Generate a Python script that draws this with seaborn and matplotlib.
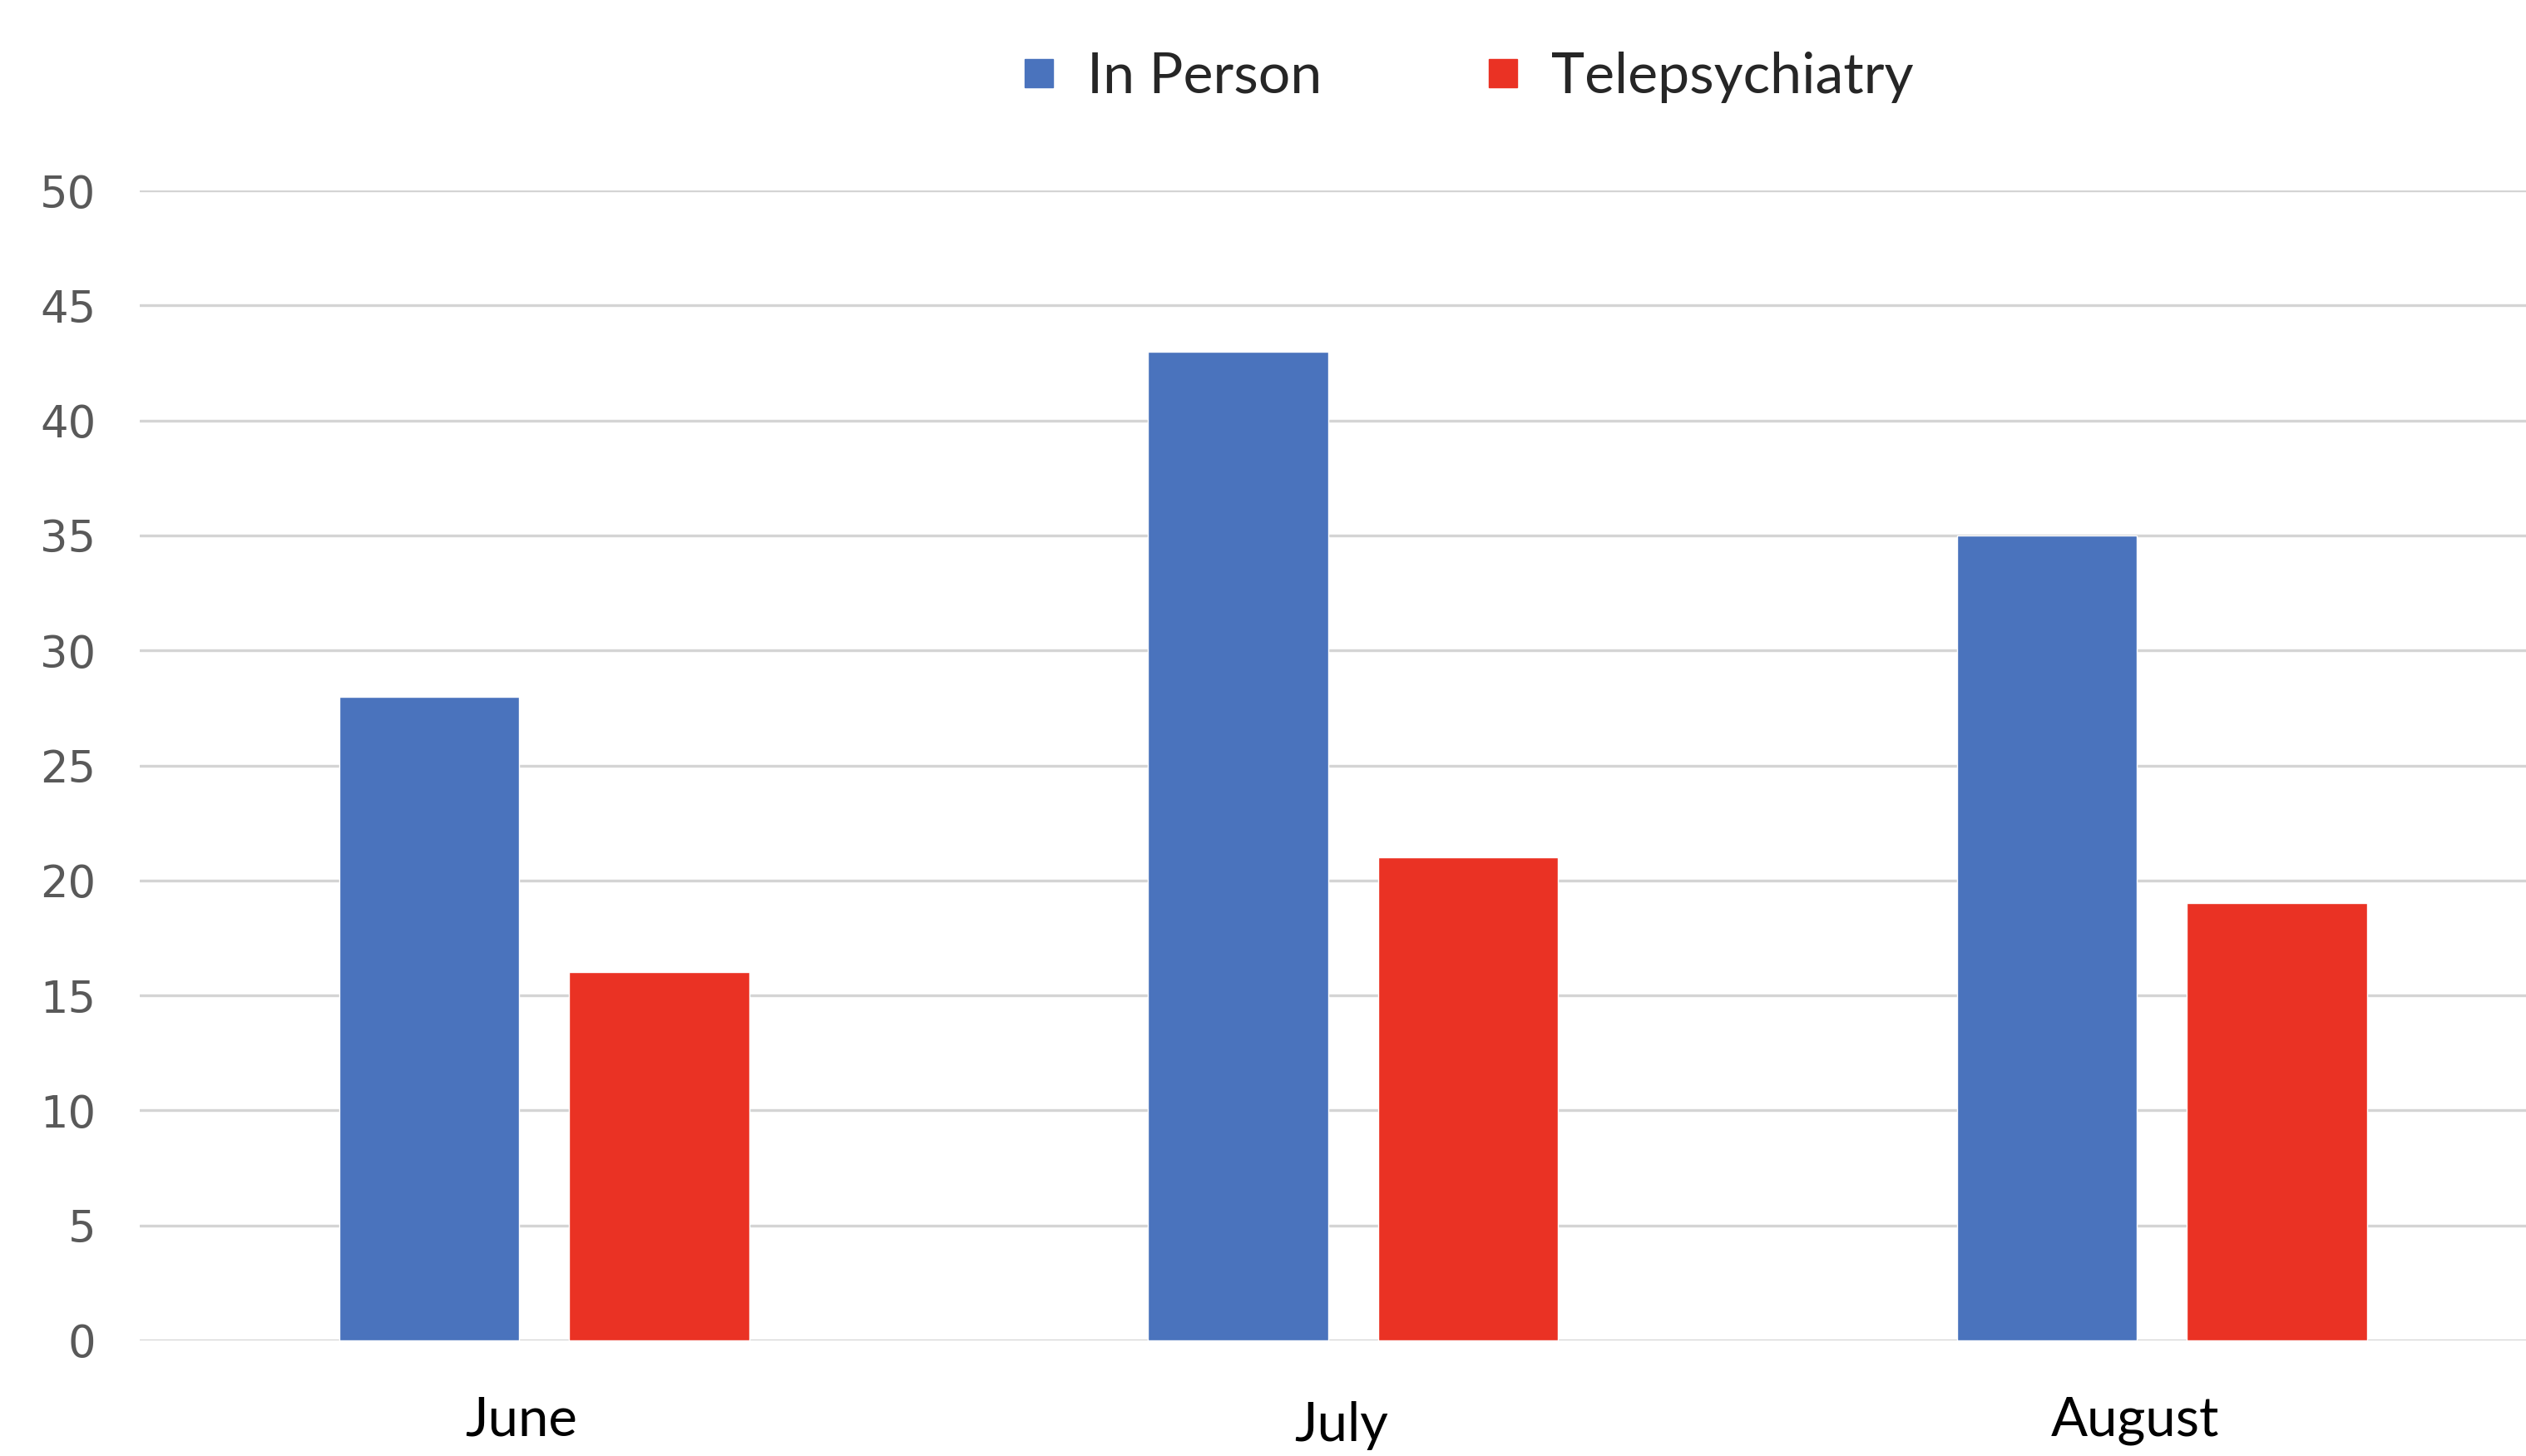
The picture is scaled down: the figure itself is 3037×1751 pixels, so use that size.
import matplotlib
matplotlib.use("Agg")
import matplotlib.pyplot as plt
import matplotlib.transforms as mtransforms
from matplotlib.lines import Line2D
import seaborn as sns
import pandas as pd

# Monthly visit counts by mode of care
months = ["June", "July", "August"]
in_person = [28, 43, 35]
telepsychiatry = [16, 21, 19]
series_names = ["In Person", "Telepsychiatry"]
yticks = [0, 5, 10, 15, 20, 25, 30, 35, 40, 45, 50]

colors = {"In Person": "#4A73BD", "Telepsychiatry": "#EA3224"}

df = pd.DataFrame({
    "month": months * 2,
    "count": in_person + telepsychiatry,
    "mode": [series_names[0]] * len(months) + [series_names[1]] * len(months),
})

sns.set_theme(style="white")
label_font = "Lato"
plt.rcParams["font.family"] = ["DejaVu Sans"]

fig = plt.figure(figsize=(30.37, 17.51), dpi=100)
ax = fig.add_axes([0.0553, 0.0794, 0.9447, 0.7898])

sns.barplot(data=df, x="month", y="count", hue="mode", order=months,
            hue_order=series_names, palette=colors, saturation=1,
            width=0.569, gap=0.217, legend=False, ax=ax, zorder=3)

ax.set_ylim(0, 50)
ax.set_xlim(-0.5, 2.45)
ax.set_yticks(yticks)
ax.set_yticklabels([str(v) for v in yticks], color="#595959", fontsize=38)
ax.set_xticks(range(len(months)))
ax.set_xticklabels(months, fontsize=47, family=label_font, color="black")
ax.tick_params(axis="y", length=0, pad=38)
ax.tick_params(axis="x", length=0, pad=48)

# category labels sit slightly left of their bar groups
label_shift = [(-28, 0), (-14, -6), (-32, 0)]
for lbl, (dx, dy) in zip(ax.get_xticklabels(), label_shift):
    lbl.set_transform(lbl.get_transform() +
                      mtransforms.ScaledTranslation(dx / 100, dy / 100, fig.dpi_scale_trans))

ax.set_xlabel("")
ax.set_ylabel("")
for s in ax.spines.values():
    s.set_visible(False)
ax.yaxis.grid(True, color="#d4d4d4", linewidth=2.4, zorder=0)
ax.set_axisbelow(True)

handles = [Line2D([], [], linestyle="none", marker="s", markersize=24,
                  markerfacecolor=colors[n], markeredgecolor=colors[n])
           for n in series_names]
fig.legend(handles, series_names, loc="center", bbox_to_anchor=(0.581, 0.947),
           ncol=2, frameon=False, handlelength=0.6, handletextpad=0.55,
           columnspacing=2.9, prop={"family": label_font, "size": 49})

fig.savefig("out.png", dpi=100, facecolor="white")
